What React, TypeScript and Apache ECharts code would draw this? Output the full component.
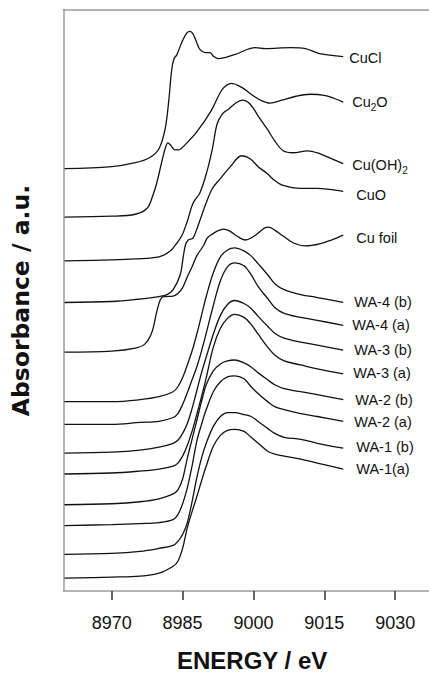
import { useEffect, useRef } from "react";
import * as echarts from "echarts";

// X axis ticks (eV)
const tickValues = [8970, 8985, 9000, 9015, 9030];

// Reference compounds: [energy eV, stacked absorbance (a.u. x100)]
const cuCl = [[8960,426],[8970,428],[8975,432],[8978,437],[8980,446],[8981.3,466],[8982.1,496],[8982.7,526],[8983.2,537],[8983.8,541],[8984.8,553],[8985.9,563],[8986.6,564.5],[8987.3,561],[8988,553],[8988.7,546],[8989.8,543],[8990.8,543],[8991.5,539.5],[8992.6,537],[8996,541],[9000.4,548],[9002.5,547],[9007.8,548],[9011,547],[9014,542],[9019,539]];
const cu2O = [[8960,377],[8970,378],[8975,380],[8977.5,386],[8978.7,399],[8979.5,411],[8980.6,433],[8981.3,446],[8981.9,452],[8982.6,449],[8983.3,445],[8984.2,445],[8985.5,450],[8988,463],[8991,484],[8993,503],[8994,509],[8995.3,512],[8997.5,508],[8999.5,501],[9001.5,495],[9003.5,492],[9006,495],[9009,499],[9012,501],[9015,500],[9017,497],[9019,493]];
const cuOH2 = [[8960,333],[8970,334],[8975,335],[8980,337],[8982.4,343],[8983.8,351],[8984.9,359],[8986,373],[8987.2,391],[8988.7,402],[8990.2,424],[8991.3,446],[8992.3,471],[8993.4,481],[8994.7,486],[8996.2,492],[8997.6,495],[8999.3,491],[9001,479],[9002.9,466],[9004.5,454],[9006.3,444],[9008.4,442],[9011.4,444],[9014.1,441],[9016.5,436],[9019,431]];
const cuO = [[8960,291],[8970,292],[8975,294],[8980,297],[8981.7,299],[8983,304],[8984.5,319],[8985.1,336],[8985.6,349],[8986.2,354],[8987.2,356],[8988.3,369],[8989.8,389],[8991.3,406],[8993,416],[8995.1,428],[8997.5,439],[8999.3,436],[9001,428],[9002.9,421],[9004.5,414],[9006.3,409],[9009.9,406],[9013.5,406],[9016,405],[9019,403]];
const cuFoil = [[8960,241],[8970,242],[8975,245],[8977,249],[8978.5,261],[8979.5,281],[8980.3,294],[8981,297],[8983,297.5],[8984,300],[8985,306],[8986,317],[8987,327],[8988,338],[8989.5,349],[8990.2,356],[8991,359],[8992.3,363],[8993.7,365],[8995,363],[8996.5,358],[8998.3,354],[8999.5,356],[9001,361],[9002.3,366],[9003.2,367],[9004.5,364],[9006.3,358],[9008.5,351],[9011,348],[9014,350],[9016.5,354],[9019,359]];

// Samples: common energy grid
const waEnergy = [8960,8970,8976,8980,8983,8984,8985,8986,8987,8988,8989,8990,8991.5,8993,8994.5,8996,8998,8999.5,9001,9003,9004.5,9006.5,9010,9013.5,9019];
const wa4b = [191,191,193,196,201,206,215,228,242,259,278,297,321,337,344,346,343,338,330,319,310,304,299,296,291];
const wa4a = [168,168,170,171,175,179,188,200,213,226,242,260,288,313,327,331,328,319,307,295,286,280,276,273,268];
const wa3b = [139,140,142,145,149,152,159,169,184,202,220,236,259,278,289,293,290,285,277,267,260,255,251,248,243];
const wa3a = [118,119,121,123,126,129,136,147,161,178,196,215,246,265,275,279,276,269,259,246,238,232,228,224,219];
const wa2b = [87,88,90,93,98,102,113,134,153,172,191,208,222,229,232,233,230,226,220,213,208,204,201,198,193];
const wa2a = [66,67,68,69,72,77,88,104,126,151,168,183,201,211,216,217,214,206,199,191,186,183,179,176,171];
const wa1b = [37,38,40,43,46,50,57,69,90,114,134,149,166,176,180,180,178,176,171,164,159,155,153,149,144];
const wa1a = [13,14,15,18,25,30,43,64,80,95,111,126,146,157,162,163,161,155,149,141,138,136,133,129,123];

const seriesNames = ["CuCl","Cu2O","Cu(OH)2","CuO","Cu foil","WA-4 (b)","WA-4 (a)","WA-3 (b)","WA-3 (a)","WA-2 (b)","WA-2 (a)","WA-1 (b)","WA-1(a)"];
const seriesLabels = ["CuCl","Cu{sub|2}O","Cu(OH){sub|2}","CuO","Cu foil","WA-4 (b)","WA-4 (a)","WA-3 (b)","WA-3 (a)","WA-2 (b)","WA-2 (a)","WA-1 (b)","WA-1(a)"];
const labelOffsets = [[6,1],[9,0],[9,1],[13,4],[13,3],[11,0],[9,0],[11,0],[10,-1],[12,0],[11,1],[13,-1],[13,0]];

const zip = (e: number[], v: number[]) => e.map((x, i) => [x, v[i]]);

const FONT = "'Liberation Sans', Arial, Helvetica, sans-serif";

export default function App() {
  const ref = useRef<HTMLDivElement>(null);
  useEffect(() => {
    document.body.style.margin = "0";
    if (!ref.current) return;
    const chart = echarts.init(ref.current, undefined, { renderer: "svg" });
    const datasets = [cuCl, cu2O, cuOH2, cuO, cuFoil,
      zip(waEnergy, wa4b), zip(waEnergy, wa4a), zip(waEnergy, wa3b), zip(waEnergy, wa3a),
      zip(waEnergy, wa2b), zip(waEnergy, wa2a), zip(waEnergy, wa1b), zip(waEnergy, wa1a)];
    const series = datasets.map((d, i) => ({
      type: "line",
      name: seriesNames[i],
      data: d,
      smooth: 0.35,
      showSymbol: false,
      silent: true,
      lineStyle: { color: "#111", width: 1.3 },
      endLabel: {
        show: true,
        formatter: seriesLabels[i],
        distance: 0,
        offset: labelOffsets[i],
        fontSize: 14.5,
        lineHeight: 15,
        color: "#111",
        fontFamily: FONT,
        rich: {
          sub: { fontSize: 10, lineHeight: 15, padding: [8, 0, 0, 0], verticalAlign: "top", color: "#111", fontFamily: FONT },
        },
      },
    }));
    chart.setOption({
      animation: false,
      backgroundColor: "#fff",
      grid: { left: 63.3, right: 0, top: 10, bottom: 81, containLabel: false },
      xAxis: [
        {
          type: "value",
          min: 8959.75,
          max: 9037.15,
          position: "bottom",
          axisLine: { show: true, lineStyle: { color: "#9a9a9a", width: 1.5 } },
          axisTick: { show: true, length: 9, customValues: tickValues, lineStyle: { color: "#333", width: 1.5 } },
          axisLabel: { customValues: tickValues, formatter: (v: number) => String(v), fontSize: 18, color: "#111", margin: 23, fontFamily: FONT },
          splitLine: { show: false },
          name: "ENERGY / eV",
          nameLocation: "middle",
          nameGap: 57,
          nameTextStyle: { fontSize: 24, fontWeight: "bold", color: "#111", fontFamily: FONT, padding: [0, 0, 0, 12] },
        },
        {
          type: "value",
          min: 8959.75,
          max: 9037.15,
          position: "top",
          axisLine: { show: true, lineStyle: { color: "#9a9a9a", width: 1.5 } },
          axisTick: { show: false },
          axisLabel: { show: false },
          splitLine: { show: false },
        },
      ],
      yAxis: {
        type: "value",
        min: 0,
        max: 586,
        axisLine: { show: true, lineStyle: { color: "#9a9a9a", width: 1.5 } },
        axisTick: { show: false },
        axisLabel: { show: false },
        splitLine: { show: false },
        name: "Absorbance / a.u.",
        nameLocation: "middle",
        nameGap: 30,
        nameRotate: 90,
        nameTextStyle: { fontSize: 23.5, fontWeight: "bold", color: "#111", fontFamily: "'DejaVu Sans', sans-serif" },
      },
      series,
    });
    return () => chart.dispose();
  }, []);
  return <div ref={ref} style={{ width: 429, height: 677 }} />;
}
